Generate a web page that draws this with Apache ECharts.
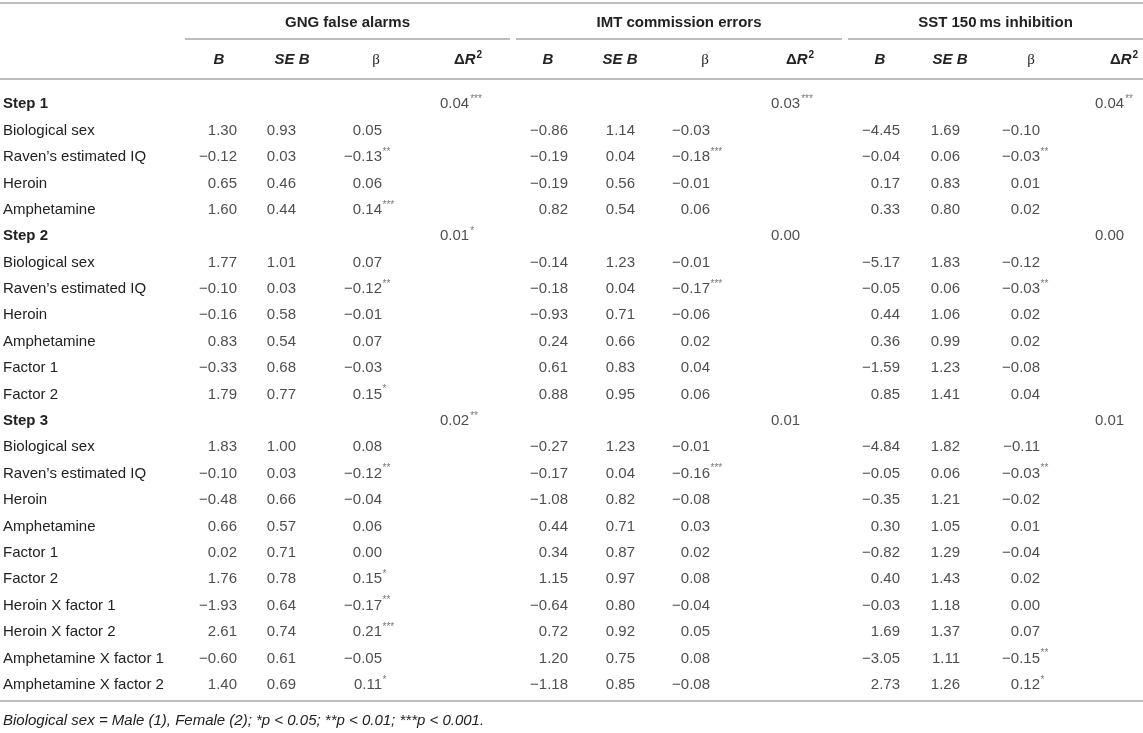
<!DOCTYPE html>
<html>
<head>
<meta charset="utf-8">
<title>Hierarchical regression table</title>
<script src="https://cdn.jsdelivr.net/npm/echarts@6/dist/echarts.min.js"></script>
<style>
    html, body { margin: 0; padding: 0; background: #fff; }
    #main { width: 1143px; height: 733px; }
</style>
</head>
<body>
<div id="main"></div>
<script>
// row labels (Step rows are drawn bold)
var rowLabels = [
    'Step 1', 'Biological sex', 'Raven\u2019s estimated IQ', 'Heroin', 'Amphetamine',
    'Step 2', 'Biological sex', 'Raven\u2019s estimated IQ', 'Heroin', 'Amphetamine', 'Factor 1', 'Factor 2',
    'Step 3', 'Biological sex', 'Raven\u2019s estimated IQ', 'Heroin', 'Amphetamine', 'Factor 1', 'Factor 2',
    'Heroin X factor 1', 'Heroin X factor 2', 'Amphetamine X factor 1', 'Amphetamine X factor 2'
];
var outcomes = ['GNG false alarms', 'IMT commission errors', 'SST 150\u2009ms inhibition'];
var footnote = 'Biological sex = Male (1), Female (2); *p < 0.05; **p < 0.01; ***p < 0.001.';

// GNG false alarms
var gngB    = [null, 1.30, -0.12, 0.65, 1.60, null, 1.77, -0.10, -0.16, 0.83, -0.33, 1.79, null, 1.83, -0.10, -0.48, 0.66, 0.02, 1.76, -1.93, 2.61, -0.60, 1.40];
var gngSE   = [null, 0.93, 0.03, 0.46, 0.44, null, 1.01, 0.03, 0.58, 0.54, 0.68, 0.77, null, 1.00, 0.03, 0.66, 0.57, 0.71, 0.78, 0.64, 0.74, 0.61, 0.69];
var gngBeta = [null, 0.05, -0.13, 0.06, 0.14, null, 0.07, -0.12, -0.01, 0.07, -0.03, 0.15, null, 0.08, -0.12, -0.04, 0.06, 0.00, 0.15, -0.17, 0.21, -0.05, 0.11];
var gngBetaSig = [0, 0, 2, 0, 3, 0, 0, 2, 0, 0, 0, 1, 0, 0, 2, 0, 0, 0, 1, 2, 3, 0, 1];
var gngR2    = [0.04, 0.01, 0.02];
var gngR2Sig = [3, 1, 2];

// IMT commission errors
var imtB    = [null, -0.86, -0.19, -0.19, 0.82, null, -0.14, -0.18, -0.93, 0.24, 0.61, 0.88, null, -0.27, -0.17, -1.08, 0.44, 0.34, 1.15, -0.64, 0.72, 1.20, -1.18];
var imtSE   = [null, 1.14, 0.04, 0.56, 0.54, null, 1.23, 0.04, 0.71, 0.66, 0.83, 0.95, null, 1.23, 0.04, 0.82, 0.71, 0.87, 0.97, 0.80, 0.92, 0.75, 0.85];
var imtBeta = [null, -0.03, -0.18, -0.01, 0.06, null, -0.01, -0.17, -0.06, 0.02, 0.04, 0.06, null, -0.01, -0.16, -0.08, 0.03, 0.02, 0.08, -0.04, 0.05, 0.08, -0.08];
var imtBetaSig = [0, 0, 3, 0, 0, 0, 0, 3, 0, 0, 0, 0, 0, 0, 3, 0, 0, 0, 0, 0, 0, 0, 0];
var imtR2    = [0.03, 0.00, 0.01];
var imtR2Sig = [3, 0, 0];

// SST 150 ms inhibition
var sstB    = [null, -4.45, -0.04, 0.17, 0.33, null, -5.17, -0.05, 0.44, 0.36, -1.59, 0.85, null, -4.84, -0.05, -0.35, 0.30, -0.82, 0.40, -0.03, 1.69, -3.05, 2.73];
var sstSE   = [null, 1.69, 0.06, 0.83, 0.80, null, 1.83, 0.06, 1.06, 0.99, 1.23, 1.41, null, 1.82, 0.06, 1.21, 1.05, 1.29, 1.43, 1.18, 1.37, 1.11, 1.26];
var sstBeta = [null, -0.10, -0.03, 0.01, 0.02, null, -0.12, -0.03, 0.02, 0.02, -0.08, 0.04, null, -0.11, -0.03, -0.02, 0.01, -0.04, 0.02, 0.00, 0.07, -0.15, 0.12];
var sstBetaSig = [0, 0, 2, 0, 0, 0, 0, 2, 0, 0, 0, 0, 0, 0, 2, 0, 0, 0, 0, 0, 0, 2, 1];
var sstR2    = [0.04, 0.00, 0.01];
var sstR2Sig = [2, 0, 0];

var stepRows = [0, 5, 12];

// layout (pixels, x axis runs 0..1143)
var groupSpan = [[185, 510], [516, 842], [848, 1143]];
var numRight  = [[237, 296, 382], [568, 635, 710], [900, 960, 1040]];
var r2Left    = [440, 771, 1095];
var headX     = [[219, 292, 376, 468], [548, 620, 705, 800], [880, 950, 1031, 1124]];
var ink = '#222';
var starInk = '#555';
var ruleColor = '#bdbdbd';
var font = 'Liberation Sans, Arial, Helvetica, sans-serif';

function fmt(v) {
    return (v < 0 ? '\u2212' : '') + Math.abs(v).toFixed(2);
}
function stars(n) {
    return '***'.slice(0, n);
}

var tableCols = [
    [gngB, gngSE, gngBeta, gngBetaSig, gngR2, gngR2Sig],
    [imtB, imtSE, imtBeta, imtBetaSig, imtR2, imtR2Sig],
    [sstB, sstSE, sstBeta, sstBetaSig, sstR2, sstR2Sig]
];

var series = [];
tableCols.forEach(function (cols, g) {
    // B, SE B, beta : number right-aligned on the column line
    [cols[0], cols[1], cols[2]].forEach(function (arr, c) {
        var data = [];
        arr.forEach(function (v, r) {
            if (v !== null) data.push([numRight[g][c], r, fmt(v)]);
        });
        series.push({
            type: 'scatter', symbolSize: 0, silent: true, data: data,
            label: {
                show: true, position: 'left', distance: 0,
                color: ink, fontFamily: font, fontSize: 15,
                formatter: function (p) { return p.data[2]; }
            }
        });
    });
    // beta significance stars hang to the right of the number
    var starData = [];
    cols[3].forEach(function (n, r) {
        if (n > 0) starData.push([numRight[g][2], r, stars(n)]);
    });
    series.push({
        type: 'scatter', symbolSize: 0, silent: true, data: starData,
        label: {
            show: true, position: 'right', distance: 0.5, offset: [0, -5],
            color: starInk, fontFamily: font, fontSize: 10,
            formatter: function (p) { return p.data[2]; }
        }
    });
    // delta R2 on the Step rows
    var r2Data = cols[4].map(function (v, i) {
        return [r2Left[g], stepRows[i], fmt(v), stars(cols[5][i])];
    });
    series.push({
        type: 'scatter', symbolSize: 0, silent: true, data: r2Data,
        label: {
            show: true, position: 'right', distance: 0,
            formatter: function (p) {
                return '{n|' + p.data[2] + '}' + (p.data[3] ? '{s|' + p.data[3] + '}' : '');
            },
            rich: {
                n: { color: ink, fontFamily: font, fontSize: 15 },
                s: { color: starInk, fontFamily: font, fontSize: 10, padding: [0, 0, 10, 1] }
            }
        }
    });
});

// header texts and rules
var graphic = [];
function rule(x1, x2, y) {
    graphic.push({
        type: 'line', silent: true,
        shape: { x1: x1, y1: y, x2: x2, y2: y },
        style: { stroke: ruleColor, lineWidth: 2 }
    });
}
rule(0, 1143, 3);
rule(0, 1143, 79);
rule(0, 1143, 701);
outcomes.forEach(function (name, g) {
    rule(groupSpan[g][0], groupSpan[g][1], 39);
    graphic.push({
        type: 'text', silent: true,
        x: (groupSpan[g][0] + groupSpan[g][1]) / 2, y: 23,
        style: {
            text: name, align: 'center', verticalAlign: 'middle',
            fill: ink, font: 'bold 15px ' + font
        }
    });
    var heads = [
        { text: '{bi|B}', x: headX[g][0] },
        { text: '{bi|SE B}', x: headX[g][1] },
        { text: '{beta|\u03b2}', x: headX[g][2] },
        { text: '{b|\u0394}{bi|R}{sup|2}', x: headX[g][3] }
    ];
    heads.forEach(function (h) {
        graphic.push({
            type: 'text', silent: true, x: h.x, y: 60,
            style: {
                text: h.text, align: 'center', verticalAlign: 'middle',
                rich: {
                    b: { fill: ink, font: 'bold 15px ' + font },
                    bi: { fill: ink, font: 'italic bold 15px ' + font },
                    beta: { fill: ink, font: '15px Liberation Serif, DejaVu Serif, serif' },
                    sup: { fill: ink, font: 'bold 10px ' + font, padding: [0, 0, 10, 1] }
                }
            }
        });
    });
});
graphic.push({
    type: 'text', silent: true, x: 3, y: 721,
    style: {
        text: footnote, align: 'left', verticalAlign: 'middle',
        fill: ink, font: 'italic 15px ' + font
    }
});

var chart = echarts.init(document.getElementById('main'), null, { renderer: 'canvas' });
chart.setOption({
    animation: false,
    backgroundColor: '#fff',
    grid: { left: 0, right: 0, top: 91, height: 607 },
    xAxis: { type: 'value', min: 0, max: 1143, show: false },
    yAxis: {
        type: 'category', inverse: true,
        data: rowLabels.map(function (name, i) {
            return stepRows.indexOf(i) >= 0 ? { value: name, textStyle: { fontWeight: 'bold' } } : name;
        }),
        axisLine: { show: false }, axisTick: { show: false }, splitLine: { show: false },
        axisLabel: {
            inside: true, margin: 3, align: 'left', interval: 0,
            color: ink, fontFamily: font, fontSize: 15
        }
    },
    graphic: graphic,
    series: series
});
</script>
</body>
</html>
